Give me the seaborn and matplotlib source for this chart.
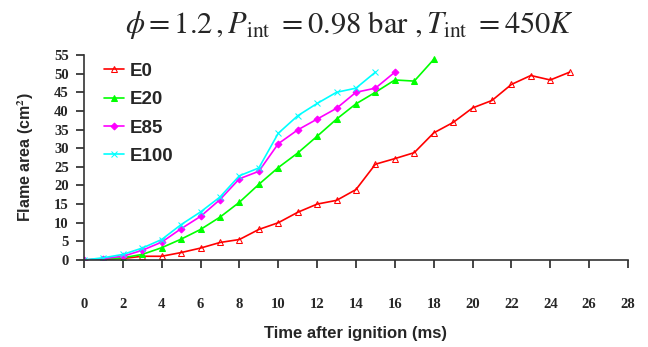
import pandas as pd
import matplotlib.pyplot as plt
import seaborn as sns

# 读图得到的数据 (时间 ms, 火焰面积 cm^2)
t_e0 = list(range(0, 26))
a_e0 = [0, 0.2, 0.4, 1.0, 1.0, 2.0, 3.2, 4.7, 5.5, 8.2, 10.0, 12.8, 15.0, 16.0,
        18.9, 25.7, 27.2, 28.8, 34.1, 36.9, 40.8, 42.8, 47.1, 49.5, 48.3, 50.4]

t_e20 = list(range(0, 19))
a_e20 = [0, 0.2, 0.6, 1.5, 3.3, 5.6, 8.2, 11.5, 15.5, 20.3, 24.8, 28.7, 33.2,
         37.8, 41.9, 45.0, 48.3, 48.0, 53.8]

t_e85 = list(range(0, 17))
a_e85 = [0, 0.4, 1.0, 2.6, 4.8, 8.4, 11.7, 16.2, 21.8, 23.8, 31.2, 34.9, 37.8,
         40.7, 45.0, 46.1, 50.4]

t_e100 = list(range(0, 16))
a_e100 = [0, 0.6, 1.5, 3.2, 5.5, 9.5, 12.9, 16.9, 22.6, 24.7, 34.0, 38.7, 42.0,
          45.0, 46.1, 50.4]

series = ['E0', 'E20', 'E85', 'E100']
times = [t_e0, t_e20, t_e85, t_e100]
areas = [a_e0, a_e20, a_e85, a_e100]

colors = {'E0': '#FF0000', 'E20': '#00FF00', 'E85': '#FF00FF', 'E100': '#00FFFF'}
markers = {'E0': '^', 'E20': '^', 'E85': 'D', 'E100': 'x'}

sns.set_style('white')
plt.rcParams['mathtext.fontset'] = 'stix'

fig = plt.figure(figsize=(6.48, 3.47), dpi=100)
ax = fig.add_axes([0.1296, 0.2507, 0.8395, 0.5908])

for name, t, a in zip(series, times, areas):
    df = pd.DataFrame({'t': t, 'a': a})
    c = colors[name]
    kw = dict(marker=markers[name], color=c, markeredgecolor=c, linewidth=1.2,
              markersize=4.5, label=name)
    if name == 'E0':
        kw['markerfacecolor'] = 'none'
    if name == 'E85':
        kw['markersize'] = 3.5
    sns.lineplot(data=df, x='t', y='a', ax=ax, **kw)

ax.set_xlim(0, 28)
ax.set_ylim(0, 55)
ax.set_xticks(range(0, 29, 2))
ax.set_yticks(range(0, 56, 5))

for s in ['top', 'right']:
    ax.spines[s].set_visible(False)
for s in ['left', 'bottom']:
    ax.spines[s].set_color('#333333')
    ax.spines[s].set_linewidth(1.2)

ax.tick_params(axis='x', direction='out', length=6, width=1.2, pad=21, bottom=True)
ax.tick_params(axis='y', direction='out', length=6, width=1.2, pad=5, left=True)
for lab in ax.get_xticklabels() + ax.get_yticklabels():
    lab.set_fontfamily('Liberation Serif')
    lab.set_fontweight('bold')
    lab.set_fontsize(10.5)

ax.set_xlabel('Time after ignition (ms)', family='Liberation Sans', fontweight='bold',
              fontsize=12, labelpad=11)
ax.set_ylabel('Flame area (cm$^\\mathbf{2}$)', family='Liberation Sans', fontweight='bold',
              fontsize=11.5, labelpad=13)

leg = ax.legend(loc='upper left', bbox_to_anchor=(0.005, 1.045), frameon=False,
                prop={'family': 'Liberation Sans', 'weight': 'bold', 'size': 13.5},
                handlelength=1.1, handletextpad=0.3, labelspacing=0.6)

fig.text(0.54, 0.928, r'$\phi = 1.2\,,P_{\rm int}\,\, = 0.98\ {\rm bar}\ ,T_{\rm int}\,\, = 450K$',
         ha='center', va='center', fontsize=22)

fig.savefig('out.png', dpi=100)
